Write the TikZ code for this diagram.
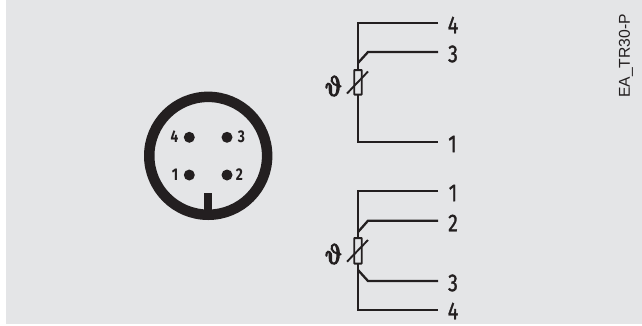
\documentclass[tikz,border=0pt]{standalone}
\usepackage{fontspec}
\setmainfont{Liberation Sans}
\newfontfamily\digitfont{Fira Sans}
\newfontfamily\labfont{Fira Sans}[FakeBold=1.4]
\newfontfamily\thetafont{Latin Modern Math}[FakeBold=5]
\definecolor{panel}{HTML}{E4E5E7}
\definecolor{ink}{HTML}{231F20}
\tikzset{
  x=1pt,y=-1pt,
  wire/.style={draw=ink,line width=2.3pt,line cap=butt,line join=miter},
  res/.style={draw=ink,line width=1.9pt,fill=panel,rounded corners=0.5pt},
  lab/.style={text=ink,font=\labfont\fontsize{24.5}{25}\selectfont,inner sep=0pt,xscale=0.8},
  pinlab/.style={text=ink,font=\digitfont\bfseries\fontsize{17}{17}\selectfont,inner sep=0pt,xscale=0.8},
  pin/.style={circle,fill=ink,minimum size=11pt,inner sep=0pt},
  theta/.style={text=ink,inner sep=0pt,font=\thetafont\fontsize{28}{28}\selectfont}
}
\begin{document}
\begin{tikzpicture}
\useasboundingbox (0,0) rectangle (642,325);
\fill[panel] (6,0) rectangle (642,324);
% connector
\node[circle,draw=ink,line width=10.5pt,minimum size=117.9pt,inner sep=0pt] (ring) at (208.2,155.8) {};
\fill[ink] (204,193) rectangle (212.3,212);
\node[pin] (p4) at (189.3,137.3) {};
\node[pin] (p3) at (227,137.3) {};
\node[pin] (p1) at (189.3,175) {};
\node[pin] (p2) at (227,175) {};
\node[pinlab] at (174.5,137) {4};
\node[pinlab] at (241.5,137) {3};
\node[pinlab] at (175,175) {1};
\node[pinlab] at (239.5,175) {2};
% upper symbol
\coordinate (a4) at (438,23);
\coordinate (a3) at (438,52);
\coordinate (a1) at (438,141.7);
\coordinate (ac) at (358,82.3);
\draw[wire] (a4) -| (358,141.7) -- (a1);
\draw[wire] (a3) -- (368,52) -- (358,63);
\node[res,minimum width=7.5pt,minimum height=24.5pt,inner sep=0pt] (r1) at (ac) {};
\draw[wire,line width=1.9pt] (347,93.5) -- (368,71.5);
\node[lab] at (453,25) {4};
\node[lab] at (453,54) {3};
\node[lab] at (452.5,144) {1};
\node[theta] at (333.5,86) {ϑ};
% lower symbol
\coordinate (b1) at (438,191);
\coordinate (b2) at (438,220.7);
\coordinate (b3) at (438,281);
\coordinate (b4) at (438,310);
\coordinate (bc) at (358,250.8);
\draw[wire] (b1) -| (358,310) -- (b4);
\draw[wire] (b2) -- (368,220.7) -- (358,232);
\draw[wire] (b3) -- (368,281) -- (358,270);
\node[res,minimum width=7.5pt,minimum height=25.5pt,inner sep=0pt] (r2) at (bc) {};
\draw[wire,line width=1.9pt] (347,261.7) -- (368,240);
\node[lab] at (453,193) {1};
\node[lab] at (453,223) {2};
\node[lab] at (453,283) {3};
\node[lab] at (453,311) {4};
\node[theta] at (333.5,254) {ϑ};
% code
\node[rotate=90,text=ink,inner sep=0pt,font=\fontsize{15.7}{16}\selectfont] (code) at (626,56) {EA\_TR30-P};
\end{tikzpicture}
\end{document}
